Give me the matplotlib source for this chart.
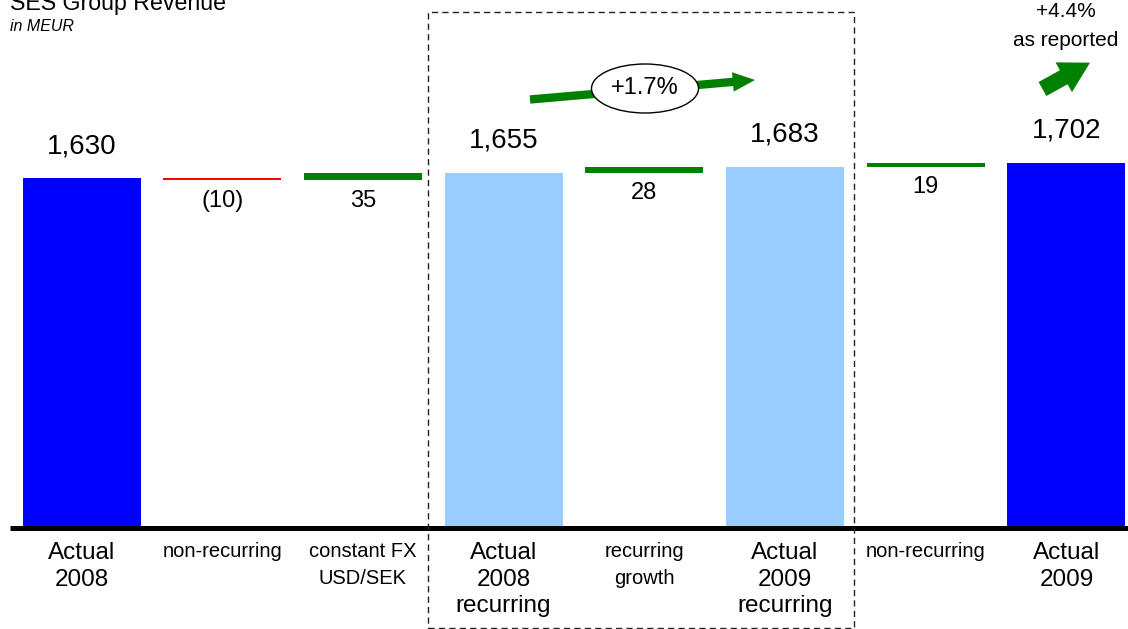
import matplotlib
matplotlib.use('Agg')
import matplotlib.pyplot as plt
from matplotlib.patches import Rectangle, Ellipse, FancyArrowPatch

plt.rcParams['font.family'] = ['Liberation Sans', 'DejaVu Sans']

# data
categories = ['Actual\n2008', 'non-recurring', 'constant FX\nUSD/SEK',
              'Actual\n2008\nrecurring', 'recurring\ngrowth',
              'Actual\n2009\nrecurring', 'non-recurring', 'Actual\n2009']
values = [1630, -10, 35, 1655, 28, 1683, 19, 1702]
kinds = ['total', 'delta', 'delta', 'subtotal', 'delta', 'subtotal', 'delta', 'total']
growth_recurring = '+1.7%'
growth_reported = '+4.4%'

col_total = '#0000FF'
col_sub = '#99CCFF'
col_up = '#008000'
col_down = '#FF0000'

# pixel layout helpers (image rows counted from top)
X0, XS = 81.5, 140.7
Y0, YS = 528.0, 0.2147


def dx(px):
    return (px - X0) / XS


def dy(row):
    return (Y0 - row) / YS


fig = plt.figure(figsize=(11.28, 6.29), dpi=100)
ax = fig.add_axes([0, 0, 1, 1])
ax.set_xlim(dx(0), dx(1128))
ax.set_ylim(dy(629), dy(0))
ax.axis('off')

# waterfall
bottoms, heights, colors = [], [], []
running = 0
for v, k in zip(values, kinds):
    if k == 'delta':
        bottoms.append(min(running, running + v))
        heights.append(abs(v))
        colors.append(col_up if v >= 0 else col_down)
        running += v
    else:
        bottoms.append(0)
        heights.append(v)
        colors.append(col_total if k == 'total' else col_sub)
        running = v

xs = list(range(len(values)))
ax.bar(xs, heights, bottom=bottoms, width=118 / XS, color=colors, linewidth=0, zorder=2)

for x, v, k, b, h in zip(xs, values, kinds, bottoms, heights):
    if k == 'delta':
        lab = '(%d)' % -v if v < 0 else '%d' % v
        ax.annotate(lab, (x, b), xytext=(0, -19), textcoords='offset points',
                    ha='center', va='baseline', fontsize=17)
    else:
        ax.annotate('{:,}'.format(v), (x, b + h), xytext=(0, 18), textcoords='offset points',
                    ha='center', va='baseline', fontsize=20)

# category labels
for x, lab, k in zip(xs, categories, kinds):
    lines = lab.split('\n')
    if k == 'delta':
        rows, fs = [557, 584], 14.5
    else:
        rows, fs = [559, 586, 612], 17.5
    for line, r in zip(lines, rows):
        ax.text(x, dy(r), line, ha='center', va='baseline', fontsize=fs)

# baseline
ax.plot([dx(10), dx(1128)], [0, 0], color='black', lw=3.6, solid_capstyle='butt', zorder=3)

# dashed box around recurring part
box = Rectangle((dx(428), dy(628)), dx(854) - dx(428), dy(12) - dy(628), fill=False,
                edgecolor='#222222', lw=1, ls=(0, (4.5, 3)), clip_on=False, zorder=4)
ax.add_patch(box)

# recurring growth arrow with ellipse
arr1 = FancyArrowPatch((dx(530), dy(99.5)), (dx(755), dy(80)),
                       arrowstyle='simple,head_length=16,head_width=14,tail_width=6',
                       mutation_scale=1, color=col_up, lw=0, shrinkA=0, shrinkB=0, zorder=5)
ax.add_patch(arr1)
ell = Ellipse((dx(645), dy(88.5)), 107 / XS, 49 / YS, facecolor='white',
              edgecolor='black', lw=1, zorder=6)
ax.add_patch(ell)
ax.text(dx(645), dy(88.5), growth_recurring, ha='center', va='center', fontsize=17, zorder=7)

# reported growth arrow
arr2 = FancyArrowPatch((dx(1042.5), dy(89)), (dx(1090), dy(62.7)),
                       arrowstyle='simple,head_length=21.6,head_width=24.5,tail_width=11.5',
                       mutation_scale=1, color=col_up, lw=0, shrinkA=0, shrinkB=0, zorder=5)
ax.add_patch(arr2)
ax.text(dx(1066), dy(17), growth_reported, ha='center', va='baseline', fontsize=15)
ax.text(dx(1066), dy(46), 'as reported', ha='center', va='baseline', fontsize=15)

# titles
ax.text(dx(10), dy(10), 'SES Group Revenue', ha='left', va='baseline', fontsize=16.7)
ax.text(dx(10), dy(31), 'in MEUR', ha='left', va='baseline', fontsize=11.5, style='italic')

fig.savefig('out.png', dpi=100)
